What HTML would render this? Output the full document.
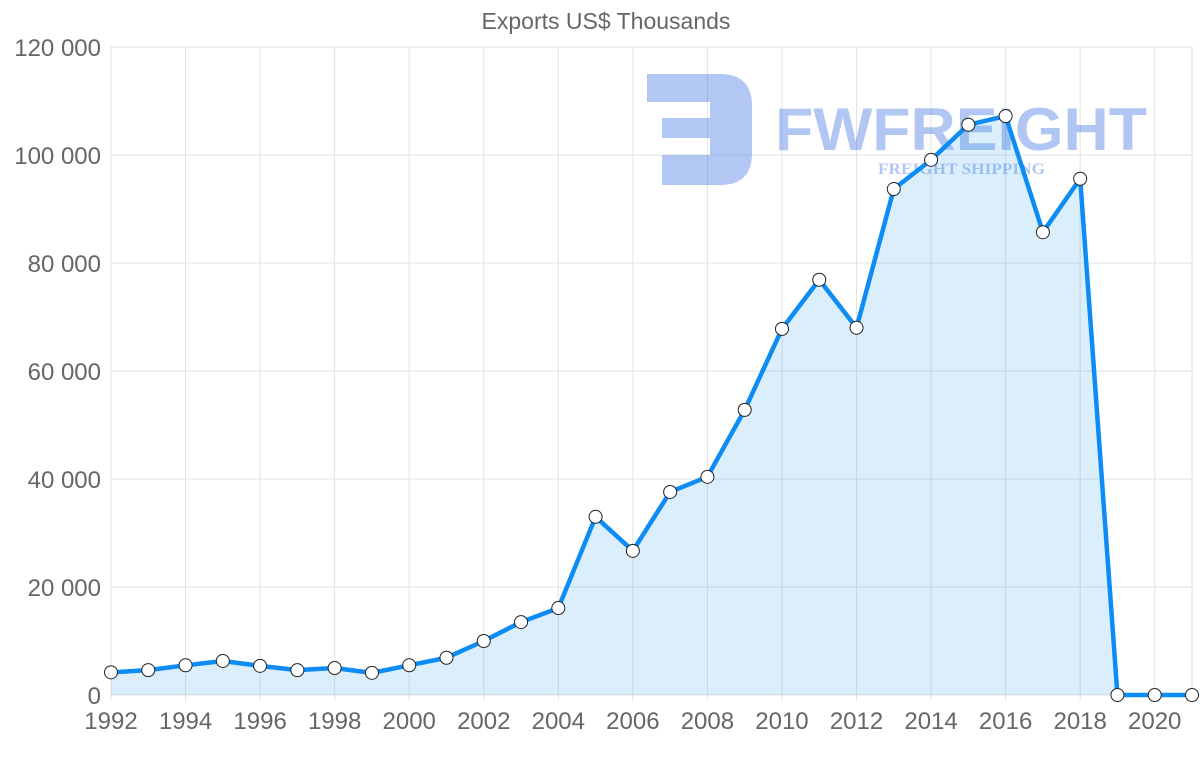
<!DOCTYPE html>
<html><head><meta charset="utf-8"><style>
body{margin:0;background:#fff;width:1200px;height:763px;overflow:hidden;font-family:"Liberation Sans",sans-serif}
</style></head><body>
<svg id="chart" width="1200" height="763" xmlns="http://www.w3.org/2000/svg">
<text x="606" y="29" text-anchor="middle" font-size="23" fill="#666">Exports US$ Thousands</text>
<g id="grid"></g>
<g opacity="0.4">
<path d="M647 74 H720 Q752 74 752 106 V153 Q752 185 720 185 H662 V155 H710 V138 H662 V118 H710 V102 H647 Z" fill="#3f73e0"/>
<text x="775" y="150" font-size="60" font-weight="bold" fill="#3f73e0" textLength="372" lengthAdjust="spacingAndGlyphs">FWFREIGHT</text>
<text x="878" y="174" font-size="16" font-weight="bold" font-family="Liberation Serif,serif" fill="#3f73e0" textLength="167" lengthAdjust="spacingAndGlyphs">FREIGHT SHIPPING</text>
</g>
<g id="plot"></g>
</svg>
<script>
const years=[1992,1993,1994,1995,1996,1997,1998,1999,2000,2001,2002,2003,2004,2005,2006,2007,2008,2009,2010,2011,2012,2013,2014,2015,2016,2017,2018,2019,2020,2021];
const exportsVals=[4200,4600,5500,6300,5400,4600,5000,4100,5500,6900,10000,13500,16100,33000,26700,37600,40400,52800,67800,76900,68000,93700,99100,105600,107200,85700,95600,0,0,0];
const yTicks=[0,20000,40000,60000,80000,100000,120000];
const yTickLabels=["0","20 000","40 000","60 000","80 000","100 000","120 000"];
const NS="http://www.w3.org/2000/svg";
const x0=111,x1=1192,yb=695,yt=47;
const xs=y=>x0+(y-years[0])/(years[years.length-1]-years[0])*(x1-x0);
const ys=v=>yb-v/120000*(yb-yt);
function mk(t,a,p){const e=document.createElementNS(NS,t);for(const k in a)e.setAttribute(k,a[k]);p.appendChild(e);return e;}
const grid=document.getElementById('grid'),plot=document.getElementById('plot');
yTicks.forEach((v,i)=>{
 const l=mk('line',{x1:x0,x2:x1,y1:ys(v),y2:ys(v),stroke:'#e3e3e3'},grid);
 
 
 const t=mk('text',{x:101,y:ys(v)+9,'text-anchor':'end','font-size':24,fill:'#666'},grid);
 t.textContent=yTickLabels[i];
 
 
});
years.forEach((y,i)=>{
 if(i%2==0){
 const l=mk('line',{x1:xs(y),x2:xs(y),y1:yt,y2:yb+6,stroke:'#e3e3e3'},grid);
 
 
 const t=mk('text',{x:xs(y),y:729,'text-anchor':'middle','font-size':24,fill:'#666'},grid);
 t.textContent=y;
 
 }
});
mk('line',{x1:x1,x2:x1,y1:yt,y2:yb,stroke:'#e3e3e3'},grid);
const pts=years.map((y,i)=>xs(y)+','+ys(exportsVals[i]));
const area=mk('polygon',{points:xs(years[0])+','+yb+' '+pts.join(' ')+' '+xs(years[years.length-1])+','+yb,fill:'rgba(54,162,235,0.18)'},plot);


const line=mk('polyline',{points:pts.join(' '),fill:'none',stroke:'#0d8cf5','stroke-width':4.5,'stroke-linejoin':'round'},plot);


years.forEach((y,i)=>{
 const c=mk('circle',{cx:xs(y),cy:ys(exportsVals[i]),r:6.5,fill:'#fff',stroke:'#222','stroke-width':1},plot);
 
 
});
</script>
</body></html>
